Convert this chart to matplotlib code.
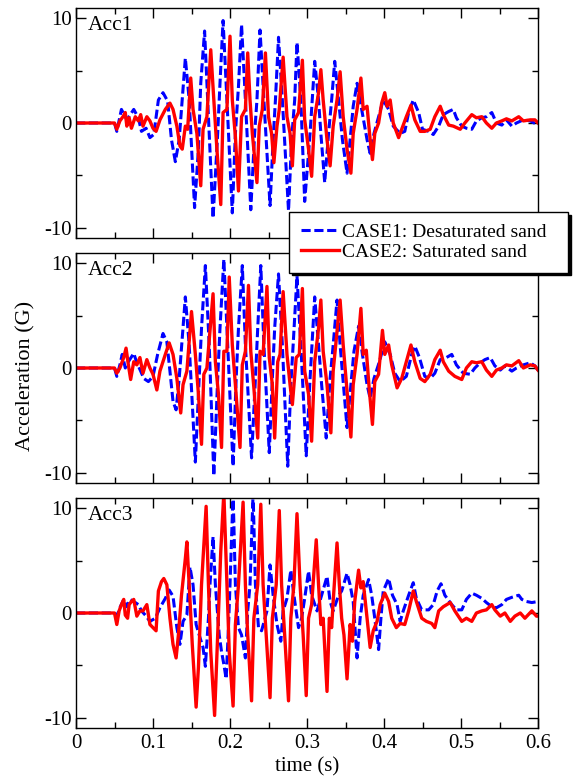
import numpy as np
import matplotlib
matplotlib.use("Agg")
import matplotlib.pyplot as plt
from matplotlib.ticker import MultipleLocator

plt.rcParams['font.family'] = ['Liberation Serif', 'DejaVu Serif']
plt.rcParams['axes.unicode_minus'] = False

# time in ms, acceleration in G
acc1_case1_t = [0, 50, 53, 59, 66, 75, 81, 85, 91, 96,
                101, 107, 113, 119, 124, 129, 134, 142, 147, 154,
                159, 162, 167, 171, 178, 184, 187, 191, 196, 203,
                207, 211, 215, 220, 227, 232, 235, 239, 244, 252,
                256, 259, 263, 268, 276, 280, 284, 287, 292, 297,
                304, 310, 315, 318, 323, 328, 332, 336, 341, 346,
                352, 356, 360, 365, 371, 378, 382, 387, 393, 399,
                406, 412, 421, 427, 432, 438, 445, 450, 458, 464,
                471, 477, 484, 490, 494, 501, 507, 514, 520, 527,
                533, 540, 546, 553, 559, 566, 572, 581, 590, 600]
acc1_case1 = [0, 0, -0.8, 1.3, 0.3, 1.3, 0.5, -0.8, -0.5, -1.4,
              -1.1, 2.2, 2.9, 2.1, -1.6, -3.7, -1.6, 6.2, 2.2, -8.1,
              -2.5, 3.8, 8.8, 2.2, -9.1, -1.0, 3.8, 9.8, 2.2, -8.6,
              -1.0, 3.5, 9.4, 2.2, -8.3, -1.0, 2.2, 8.9, 2.2, -7.9,
              -1.6, 2.2, 8.2, 2.2, -8.4, -1.6, 2.2, 7.7, 2.2, -7.5,
              -1.0, 5.9, 2.2, -1.0, -5.7, -1.0, 2.2, 5.9, 2.2, -1.6,
              -4.8, -1.6, 1.6, 3.8, 1.3, -1.6, -2.9, -1.0, 0.6, 2.2,
              1.3, -0.3, -1.0, -0.8, 1.0, 2.2, 1.0, -0.6, -0.8, -1.1,
              -0.3, 0.8, 1.1, 1.3, 0.5, -0.3, -0.5, -0.6, 0.2, 0.5,
              0.6, 1.0, 0.0, -0.2, 0.3, -0.3, 0.0, 0.3, 0.2, -0.2]

acc1_case2_t = [0, 50, 53, 57, 61, 64, 66, 69, 72, 77,
                81, 84, 87, 92, 96, 100, 104, 109, 116, 122,
                126, 131, 135, 138, 142, 145, 149, 152, 157, 162,
                165, 170, 175, 179, 183, 188, 191, 196, 200, 203,
                207, 211, 215, 220, 223, 226, 229, 235, 238, 242,
                246, 250, 254, 257, 261, 264, 269, 274, 278, 281,
                284, 289, 294, 297, 302, 306, 310, 315, 318, 321,
                326, 330, 334, 339, 343, 347, 352, 357, 360, 365,
                370, 373, 378, 382, 385, 388, 393, 397, 401, 404,
                408, 412, 419, 423, 429, 435, 440, 447, 453, 460,
                466, 473, 477, 484, 490, 499, 505, 514, 520, 527,
                533, 540, 546, 553, 559, 566, 575, 581, 590, 596,
                600]
acc1_case2 = [0, 0, -0.6, 0.2, 0.6, 1.0, -0.3, 0.5, -0.5, 0.6,
              0.2, 0.8, -0.3, 0.6, 0.2, -0.5, -0.8, 0.3, 1.3, 1.9,
              1.3, -0.3, -2.2, -2.5, -0.3, -0.6, 4.3, 1.3, -1.0, -6.0,
              -0.6, 0.6, 7.0, 2.2, -2.5, -7.8, 1.0, 1.3, 8.3, 2.2,
              -1.3, -6.5, 0.6, 1.3, 6.7, 2.2, -1.0, -5.7, -0.3, 1.3,
              6.7, 0.6, -1.0, -3.8, -0.3, 1.3, 6.3, 0.6, -1.0, -4.1,
              0.3, 1.0, 6.0, 0.3, -2.5, -5.1, 0.6, 2.9, 5.1, 2.2,
              -1.6, -4.1, -0.3, 2.2, 4.9, 0.6, -2.5, -4.8, -1.0, 1.3,
              4.3, 1.3, 1.6, -1.6, -3.5, -1.0, 0.0, 1.9, 2.9, 1.6,
              2.2, 0.0, -1.4, -0.6, 0.6, 1.7, 0.3, -0.8, -0.8, -0.6,
              0.6, 1.6, 0.8, -0.2, -0.3, -0.6, 0.0, 0.8, 0.5, 0.6,
              0.0, -0.5, 0.0, 0.2, 0.4, 0.2, 0.6, 0.2, 0.3, 0.3,
              0.0]

acc2_case1_t = [0, 50, 53, 57, 60, 64, 68, 75, 79, 84,
                88, 94, 100, 106, 113, 118, 122, 126, 130, 134,
                142, 147, 155, 159, 163, 168, 173, 179, 184, 187,
                192, 197, 204, 208, 211, 216, 220, 228, 233, 236,
                240, 244, 251, 255, 258, 263, 268, 275, 279, 282,
                287, 292, 299, 304, 310, 315, 319, 325, 330, 334,
                339, 343, 348, 352, 357, 361, 367, 372, 378, 382,
                387, 394, 401, 408, 414, 421, 429, 436, 440, 446,
                453, 460, 466, 473, 481, 488, 494, 503, 512, 518,
                525, 531, 538, 544, 551, 557, 566, 572, 581, 590,
                596, 600]
acc2_case1 = [0, 0, -0.8, 0.3, 1.3, 0, 0.6, 1.4, 0.5, -0.3,
              -1, -1.3, -0.8, 1.3, 3.3, 2.5, -0.3, -3.2, -4, -1,
              6.8, 2.2, -9, -2.5, 3.8, 9.8, 2.2, -10.3, -1, 3.8,
              10.4, 2.2, -9.4, -1, 3.8, 9.8, 2.2, -8.6, -1, 3.8,
              9.8, 2.2, -8.1, -1, 3.8, 9, 2.2, -9.4, -1.6, 2.2,
              8.8, 2.2, -8.4, -1, 6.8, 2.2, -1.6, -6.7, -1, 2.2,
              6.5, 2.2, -2.2, -5.7, -1.6, 1.6, 4, 1.3, -1.6, -2.9,
              -1, 0.6, 2.5, 1.3, -0.5, -1.3, -0.8, 1.3, 2.1, 1,
              -0.8, -1, -0.5, 0.8, 1, 1.3, 0.3, -0.5, -0.6, 0,
              0.5, 0.8, 1, 0.2, -0.2, 0.2, -0.3, 0, 0.3, 0.5,
              0.2, -0.2]

acc2_case2_t = [0, 50, 53, 57, 62, 65, 68, 71, 75, 79,
                83, 87, 92, 96, 100, 105, 109, 116, 121, 126,
                131, 136, 139, 144, 150, 155, 159, 163, 166, 170,
                178, 181, 185, 189, 192, 196, 199, 203, 207, 213,
                216, 220, 224, 227, 231, 236, 239, 243, 248, 251,
                255, 258, 262, 265, 269, 274, 278, 281, 286, 290,
                294, 297, 302, 306, 310, 315, 318, 321, 326, 331,
                334, 339, 343, 347, 352, 357, 360, 365, 370, 373,
                377, 381, 385, 388, 393, 398, 401, 406, 410, 417,
                423, 429, 435, 440, 447, 453, 460, 466, 473, 477,
                484, 492, 501, 507, 514, 520, 527, 533, 540, 546,
                553, 559, 566, 575, 581, 590, 596, 600]
acc2_case2 = [0, 0, -0.5, 0, 1, 1.9, 0.3, -1.1, 0.6, 0.3,
              1, -0.5, 0.8, 0, -0.6, -2.1, -0.3, 1.3, 2.4, 1.3,
              -1, -4.3, -1.6, -0.3, 5.4, 1.3, -2.5, -7.3, -0.6, 0,
              7.1, 0.6, -2.5, -7.6, 1.6, 1.6, 8.7, 2.2, -1.6, -7.6,
              0.3, 1.6, 7.9, 1.6, -1.9, -6.7, 1.6, 1.3, 7.8, 1,
              -1.6, -6.7, 0.6, 1.3, 7.3, 1.3, -1.6, -3.5, 1, 1.3,
              7.6, -0.3, -2.5, -7, 0.6, 3.8, 6.5, 1.6, -1.6, -6.2,
              -0.3, 3.5, 6.5, 2.2, -2.2, -6.6, -1.6, 1.3, 5.7, 1.3,
              1.7, -2.2, -5.4, -1.3, -0.6, 3.6, 1.3, 2.2, 0.3, -1.9,
              -1, 0.6, 2.2, 0.6, -1, -1.3, -0.6, 0.8, 1.7, 0.6,
              -0.3, -0.8, -1.1, 0, 0.6, 0.5, 0.6, -0.2, -0.8, -0.2,
              0, 0.3, 0.2, 0.7, 0, 0.3, 0.2, -0.2]

acc3_case1_t = [0, 50, 53, 57, 62, 66, 70, 77, 81, 85,
                90, 96, 103, 109, 116, 121, 126, 131, 135, 139,
                144, 148, 152, 156, 160, 165, 168, 172, 174, 178,
                181, 186, 189, 192, 195, 198, 200, 204, 207, 211,
                215, 220, 223, 226, 230, 233, 237, 241, 248, 252,
                256, 261, 266, 269, 274, 279, 283, 289, 293, 297,
                302, 306, 313, 319, 326, 330, 334, 341, 345, 352,
                356, 360, 365, 369, 373, 380, 384, 388, 393, 396,
                399, 406, 411, 417, 421, 425, 432, 438, 442, 449,
                458, 464, 469, 474, 479, 488, 494, 501, 507, 514,
                520, 527, 533, 540, 546, 553, 559, 566, 575, 579,
                585, 592, 600]
acc3_case1 = [0, 0, -0.3, 0.5, 1.3, 0.6, 1.3, 1, 0.8, 0.2,
              -0.2, -0.8, -0.5, 0.5, 1.4, 2.2, 1.6, -1.4, -3, -0.8,
              -0.2, 4.4, 2.7, -1.1, -2.1, -3.3, -5.1, -0.5, 2.7, 7.3,
              2.7, -2.1, -3.7, -4.9, -6.3, -1.4, 2.7, 11.5, 2.7, -1.4,
              -2.1, -4.3, 0.2, 2.7, 11.5, 2.7, -1.4, -1.7, 0.2, 4.6,
              1.7, -1.1, -2.7, 0.2, 1.4, 4.1, 1.7, -1.4, -0.5, 1.4,
              4, 1.7, 0.2, 1.7, 3.5, 1.1, 0.2, 1.7, 2.1, 3.8,
              2.7, 1.1, -4.3, -0.5, 1.7, 3.2, 1.7, -0.5, -3.5, -0.5,
              2.1, 3.3, 1.7, 0.8, -0.8, 0.2, 1.7, 2.9, 1.4, 0.3,
              0.3, 0.8, 2.1, 2.8, 1.7, 0.8, 0.3, 0.3, 1.3, 1.9,
              1.7, 1.4, 1, 0.6, 0.5, 0.8, 1.3, 1.5, 1.7, 1.3,
              1.1, 1, 1.1]

acc3_case2_t = [0, 50, 53, 56, 59, 62, 64, 67, 69, 72,
                75, 79, 83, 87, 92, 96, 100, 104, 107, 111,
                114, 118, 122, 126, 130, 133, 137, 142, 144, 147,
                151, 156, 159, 163, 169, 172, 175, 180, 184, 188,
                192, 196, 199, 204, 207, 211, 217, 220, 223, 228,
                231, 236, 240, 243, 247, 252, 255, 260, 264, 267,
                271, 276, 279, 283, 287, 291, 295, 299, 302, 306,
                312, 315, 318, 321, 326, 329, 332, 334, 339, 342,
                345, 348, 352, 356, 359, 362, 367, 370, 373, 378,
                382, 386, 391, 395, 401, 406, 410, 416, 421, 427,
                432, 438, 442, 449, 455, 462, 466, 471, 477, 486,
                492, 501, 507, 514, 520, 527, 533, 540, 544, 551,
                557, 564, 570, 577, 583, 592, 598, 600]
acc3_case2 = [0, 0, -1.1, 0.2, 0.8, 1.3, -0.2, -0.5, 0.8, 1.1,
              1.3, -0.3, 0.2, 0.2, 0.8, -1.1, -1.4, -1.7, 2.1, 3,
              3.3, 2.7, -0.5, -3, -4.3, -2.1, 1.7, 5.2, 6.8, 2.7,
              -3, -9, -5.2, 2.7, 10.2, 2.7, -3.7, -9.8, -2.1, 5.9,
              11.5, 2.7, -3.7, -8.9, -1.1, 2.7, 10.6, 2.7, -2.1, -8.4,
              -0.5, 2.7, 10.4, 2.7, -2.1, -8.1, -0.5, 2.7, 9.8, 2.7,
              -2.1, -8.4, -0.5, 2.7, 9.5, 2.7, -2.1, -7.9, -0.5, 0.8,
              7, 2.7, -1.1, -0.5, -7.5, -0.5, -1.4, 1.1, 6.7, 2.7,
              -0.5, -2.1, -6.3, -1.1, -2.7, 1.1, 4.1, 2.4, 3, -0.5,
              -3.3, -1.7, -0.8, 0.8, 1.9, 1.1, -0.5, -1.4, -1, -1.1,
              0.2, 2.1, 1.1, -0.5, -0.8, -1, -1.4, 0.2, 0.6, 1,
              0.2, -0.8, -0.5, -0.8, 0, 0.2, 0.3, 0.8, 0.3, -0.3,
              0, -0.8, -0.3, 0, -0.5, 0.2, -0.3, -0.3]

panels = [
    ("Acc1", acc1_case1_t, acc1_case1, acc1_case2_t, acc1_case2),
    ("Acc2", acc2_case1_t, acc2_case1, acc2_case2_t, acc2_case2),
    ("Acc3", acc3_case1_t, acc3_case1, acc3_case2_t, acc3_case2),
]
labels = ["CASE1: Desaturated sand  ", "CASE2: Saturated sand"]

W, H = 574, 782
fig = plt.figure(figsize=(W / 100, H / 100), dpi=100)

left, right = 76, 538
tops = [8, 253, 498]
ph = 230

axes = []
for i, (name, t1, a1, t2, a2) in enumerate(panels):
    ax = fig.add_axes([left / W, 1 - (tops[i] + ph) / H, (right - left) / W, ph / H])
    ax.plot(np.array(t1) / 1000, a1, color='#0000FF', lw=2.2, ls='--',
            dashes=(3, 1.2), label=labels[0])
    ax.plot(np.array(t2) / 1000, a2, color='#FF0000', lw=2.4, label=labels[1])
    ax.set_xlim(0, 0.6)
    ax.set_ylim(-11, 11)
    ax.xaxis.set_major_locator(MultipleLocator(0.1))
    ax.xaxis.set_minor_locator(MultipleLocator(0.05))
    ax.yaxis.set_major_locator(MultipleLocator(10))
    ax.yaxis.set_minor_locator(MultipleLocator(5))
    ax.tick_params(which='both', direction='in', top=True, right=True,
                   labelsize=15, pad=3, width=1)
    ax.tick_params(axis='x', pad=4.5)
    ax.tick_params(which='major', length=7)
    ax.tick_params(which='minor', length=4)
    for s in ax.spines.values():
        s.set_linewidth(1)
    ax.text(0.025, 0.965, name, transform=ax.transAxes, fontsize=15.5,
            va='top', ha='left')
    if i < 2:
        ax.tick_params(labelbottom=False)
    else:
        ax.xaxis.set_major_formatter(plt.FuncFormatter(lambda v, p: f"{v:g}"))
        ax.set_xlabel("time (s)", fontsize=15, labelpad=3)
    axes.append(ax)

fig.text(26 / W, 1 - 376 / H, "Acceleration (G)", rotation=90, fontsize=16,
         ha='center', va='center')

h, l = axes[0].get_legend_handles_labels()
fig.legend(h, l, loc='upper left', bbox_to_anchor=(289 / W, 1 - 212 / H),
           borderaxespad=0, fontsize=14, frameon=True, fancybox=False,
           edgecolor='black', framealpha=1, borderpad=0.6, labelspacing=0.1,
           handlelength=1.95, handletextpad=0.2,
           shadow={'facecolor': 'black', 'edgecolor': 'black', 'alpha': 1})

fig.savefig("out.png", dpi=100)
